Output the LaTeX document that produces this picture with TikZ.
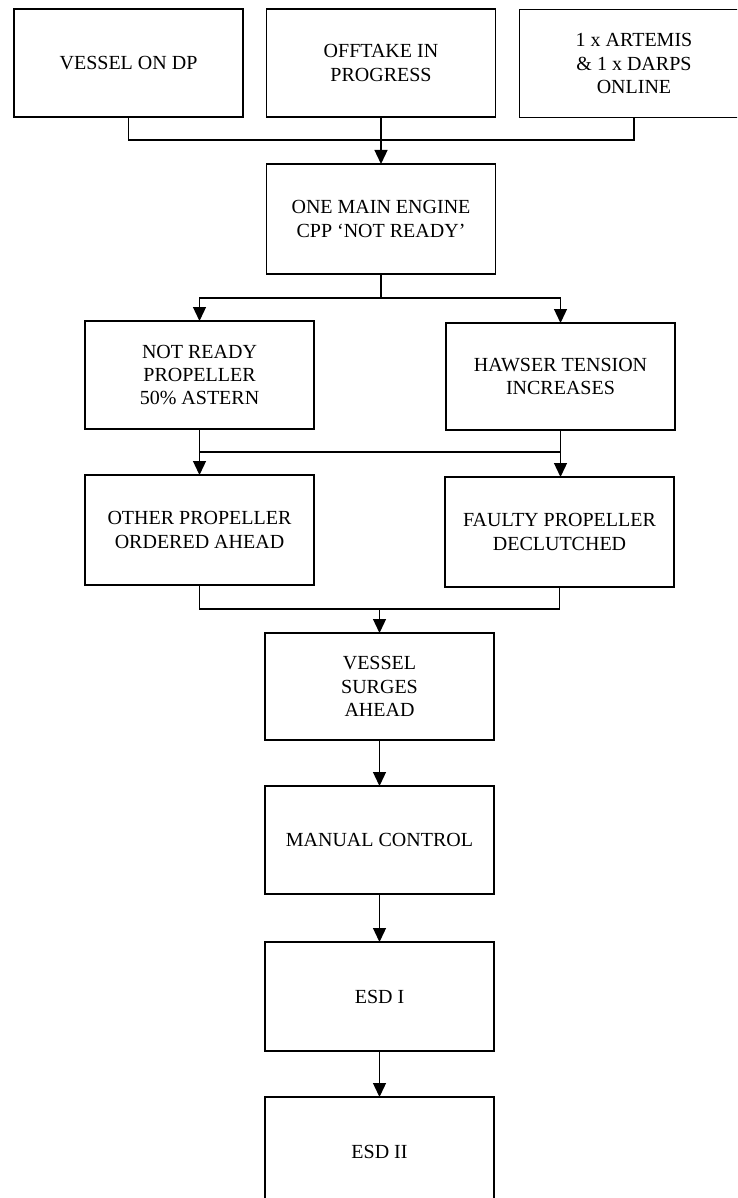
\documentclass[tikz,border=0pt]{standalone}
\usepackage{fontspec}
\setmainfont{Liberation Serif}
\usetikzlibrary{arrows.meta}
\begin{document}
\begin{tikzpicture}[x=1pt,y=-1pt,
  stepbox/.style={draw=black, line width=1.6pt, fill=white, minimum width=229pt,
    minimum height=108pt, inner sep=0pt, outer sep=0pt, align=center,
    font=\fontsize{20pt}{23.3pt}\selectfont},
  link/.style={draw=black, line width=1.3pt},
  arr/.style={link, -{Triangle[width=13pt,length=14pt]}}]
\useasboundingbox (0,0) rectangle (737,1198);
\fill[white] (0,0) rectangle (737,1198);
\clip (0,0) rectangle (737,1198);

% top row of conditions
\node[stepbox] (b1) at (128.5,63) {VESSEL ON DP};
\node[stepbox] (b2) at (381,63) {OFFTAKE IN\\PROGRESS};
\node[stepbox] (b3) at (634,63.5) {1 x ARTEMIS\\\& 1 x DARPS\\ONLINE};

% initiating fault
\node[stepbox, minimum height=110pt] (b4) at (381,219) {ONE MAIN ENGINE\\CPP ‘NOT READY’};

% consequences
\node[stepbox] (b5) at (199.5,375) {NOT READY\\PROPELLER\\50\% ASTERN};
\node[stepbox, minimum height=107pt] (b6) at (560.5,376.5) {HAWSER TENSION\\INCREASES};
\node[stepbox, minimum height=110pt] (b7) at (199.5,530) {OTHER PROPELLER\\ORDERED AHEAD};
\node[stepbox, minimum height=110pt] (b8) at (559.5,532) {FAULTY PROPELLER\\DECLUTCHED};

% outcome chain
\node[stepbox, minimum height=107pt] (b9) at (379.5,686.5) {VESSEL\\SURGES\\AHEAD};
\node[stepbox] (b10) at (379.5,840) {MANUAL CONTROL};
\node[stepbox, minimum height=109pt] (b11) at (379.5,996.5) {ESD I};
\node[stepbox, minimum height=110pt] (b12) at (379.5,1152) {ESD II};

% junction points
\coordinate (m1) at (381,140);
\coordinate (m2) at (381,298);
\coordinate (l3) at (199.5,452);
\coordinate (r3) at (560.5,452);
\coordinate (l4) at (199.5,609);
\coordinate (r4) at (559.5,609);
\coordinate (m4) at (379.5,609);

% top row merges into the fault box
\draw[link] (b1.south) |- (m1) -| (b3.south);
\draw[link] (b2.south) -- (m1);
\draw[arr] (m1) -- (b4.north);

% fault splits into two branches
\draw[link] (b4.south) -- (m2);
\draw[arr] (m2) -| (b5.north);
\draw[arr] (m2) -| (b6.north);

% cross-linked second stage
\draw[link] (b5.south) -- (l3) -- (r3) -- (b6.south);
\draw[arr] (l3) -- (b7.north);
\draw[arr] (r3) -- (r3 |- b8.north);

% merge into the surge
\draw[link] (b7.south) -- (l4) -- (r4) -- (b8.south);
\draw[arr] (m4) -- (b9.north);

% final sequence
\draw[arr] (b9.south) -- (b10.north);
\draw[arr] (b10.south) -- (b11.north);
\draw[arr] (b11.south) -- (b12.north);
\end{tikzpicture}
\end{document}
